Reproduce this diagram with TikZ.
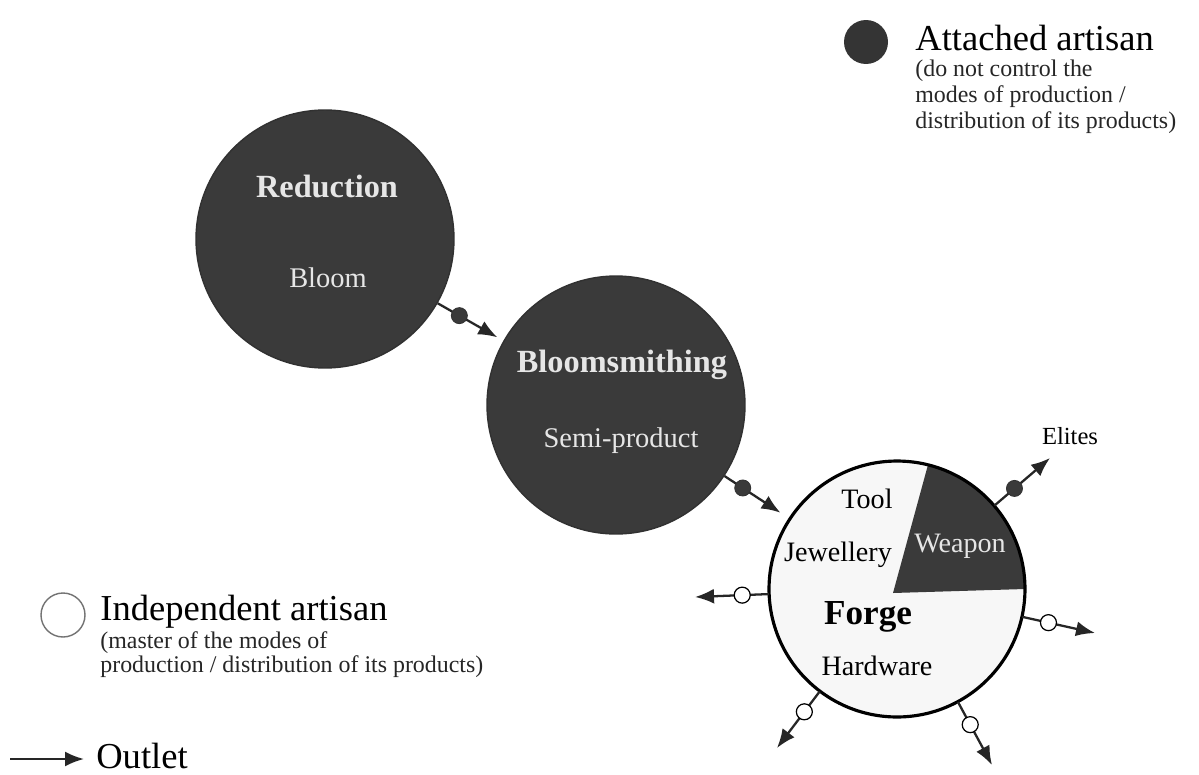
\documentclass[tikz,border=0pt]{standalone}
\usepackage{fontspec}
\setmainfont{Liberation Serif}
\usetikzlibrary{arrows.meta,calc}
\definecolor{dk}{HTML}{3A3A3A}
\definecolor{lt}{HTML}{E6E6E6}
\definecolor{pale}{HTML}{F7F7F7}
\begin{document}
\begin{tikzpicture}[x=0.02cm,y=-0.02cm,
  stage/.style={circle, fill=dk, draw=dk!85!black, line width=0.8pt, minimum size=5.16cm, inner sep=0pt},
  forgec/.style={circle, fill=pale, minimum size=5.12cm, inner sep=0pt},
  forgeline/.style={draw=black, line width=1.8pt},
  conn/.style={line width=1.3pt, draw=black!85, -{Latex[length=0.38cm,width=0.3cm]}},
  adot/.style={circle, fill=dk, draw=black!80, line width=0.5pt, minimum size=0.32cm, inner sep=0pt},
  idot/.style={circle, fill=white, draw=black, line width=0.7pt, minimum size=0.32cm, inner sep=0pt},
  ttl/.style={font=\bfseries\fontsize{18.4}{20}\selectfont, text=lt, anchor=base, inner sep=0pt},
  subt/.style={font=\fontsize{16.2}{18}\selectfont, text=lt, anchor=base, inner sep=0pt},
  flab/.style={font=\fontsize{16}{18}\selectfont, anchor=base, inner sep=0pt},
  legt/.style={font=\fontsize{20.8}{22}\selectfont, anchor=base west, inner sep=0pt},
  legs/.style={font=\fontsize{13.6}{15}\selectfont, anchor=base west, inner sep=0pt, text=black!85}
]
\useasboundingbox[fill=white] (0,0) rectangle (1199,774);

% stages
\node[stage] (red) at (325,239) {};
\node[stage] (bls) at (616,405) {};
\node[forgec] (forge) at (897,589) {};
\fill[dk] (893,593) -- (1025,589) arc[start angle=0, end angle=76, radius=2.56cm] -- cycle;
\draw[forgeline] (forge.center) circle[radius=2.56cm];

% texts in stages
\node[ttl] (tred) at (327,197) {Reduction};
\node[subt] (tbloom) at (328,287) {Bloom};
\node[ttl] (tbls) at (622,372) {Bloomsmithing};
\node[subt] (tsemi) at (621,447) {Semi-product};
\node[flab] (ttool) at (867,508) {Tool};
\node[flab] (tjew) at (838,561) {Jewellery};
\node[flab, text=lt] (twea) at (960,552) {Weapon};
\node[font=\bfseries\fontsize{20}{22}\selectfont, anchor=base, inner sep=0pt] (tforge) at (868,624) {Forge};
\node[flab] (thard) at (877,675) {Hardware};

% flow connectors
\draw[conn, shorten >=0.14cm] (red) -- (bls) node[adot, pos=0.33] (d1) {};
\draw[conn, shorten >=0.22cm] (bls) -- (forge) node[adot, pos=0.28] (d2) {};

% outlets
\coordinate (oE) at (1050,458);
\coordinate (oL) at (695,597);
\coordinate (oR) at (1095,633);
\coordinate (oBL) at (777,748);
\coordinate (oBR) at (992,765);
\draw[conn] (forge) -- (oE) node[adot, pos=0.36] (d3) {};
\draw[conn] (forge) -- (oL) node[idot, pos=0.36] (d4) {};
\draw[conn] (forge) -- (oR) node[idot, pos=0.36] (d5) {};
\draw[conn] (forge) -- (oBL) node[idot, pos=0.36] (d6) {};
\draw[conn] (forge) -- (oBR) node[idot, pos=0.36] (d7) {};
\node[font=\fontsize{14}{16}\selectfont, anchor=base, inner sep=0pt] (telites) at (1070,444) {Elites};

% legend: attached
\node[circle, fill=dk!90!black, minimum size=0.88cm, inner sep=0pt] (legA) at (866,42) {};
\node[legt] (legAt) at (915,50) {Attached artisan};
\node[legs] (legA1) at (915,76) {(do not control the};
\node[legs] (legA2) at (915,102) {modes of production /};
\node[legs] (legA3) at (915,128) {distribution of its products)};

% legend: independent
\node[circle, draw=black!55, line width=0.8pt, minimum size=0.88cm, inner sep=0pt] (legI) at (63,615) {};
\node[legt] (legIt) at (100,620) {Independent artisan};
\node[legs] (legI1) at (100,648) {(master of the modes of};
\node[legs] (legI2) at (100,672) {production / distribution of its products)};

% legend: outlet
\coordinate (la) at (10,759);
\coordinate (lb) at (84,759);
\draw[conn] (la) -- (lb);
\node[legt] (legO) at (96,768) {Outlet};
\end{tikzpicture}
\end{document}
